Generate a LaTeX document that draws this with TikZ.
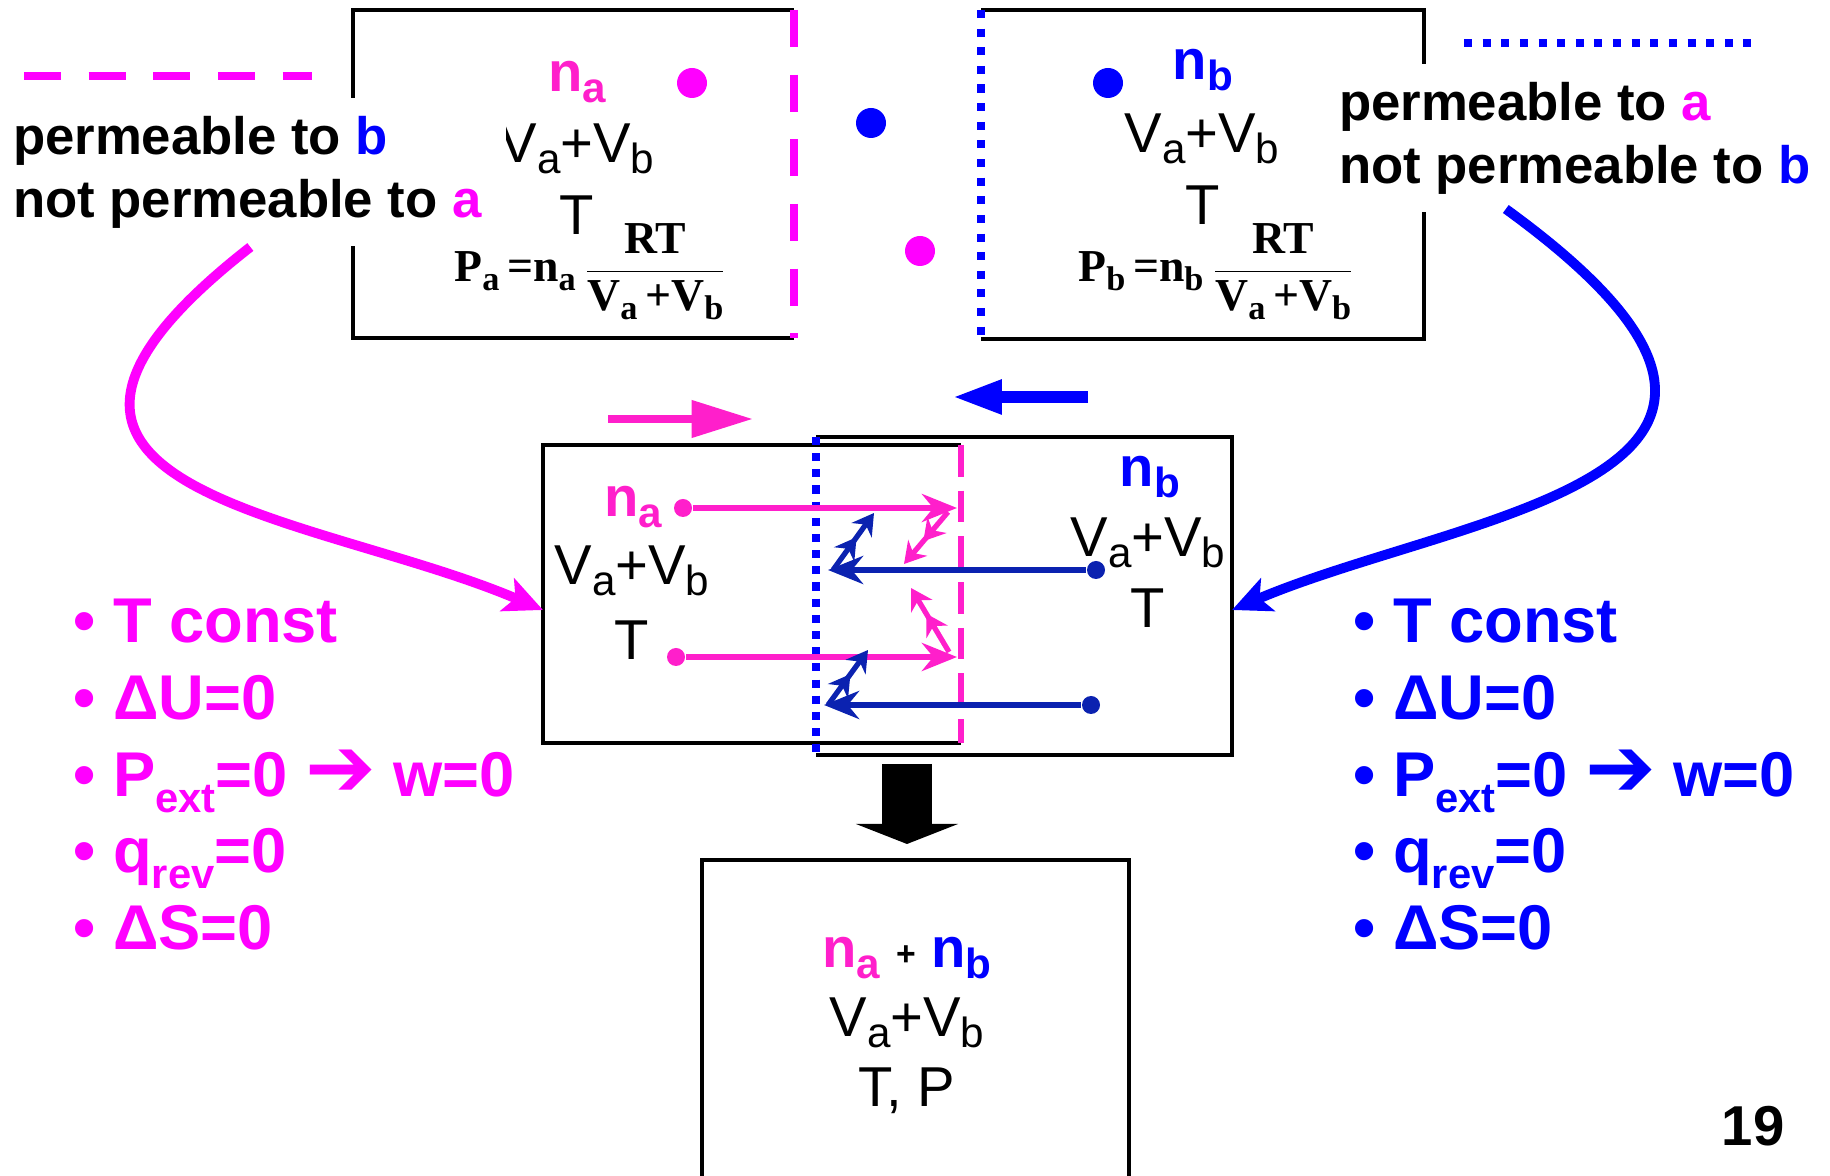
\documentclass[tikz,border=0pt]{standalone}
\usepackage{fontspec}
\setmainfont{Liberation Sans}
\newfontfamily\timesf{Liberation Serif}
\newfontfamily\symf{DejaVu Sans}
\usepackage{amsmath}
\usepackage{graphicx}
\usepackage{xcolor}
\usepackage{tikz}
\usetikzlibrary{arrows.meta,positioning,calc}

\definecolor{magA}{HTML}{FF00FF}
\definecolor{pinkA}{HTML}{FF1FCB}
\definecolor{blueB}{HTML}{0000FF}
\definecolor{navyB}{HTML}{0B22B0}

\newcommand{\dn}[1]{\raisebox{-0.18em}{\scalebox{0.75}{#1}}}
\newcommand{\dnn}[1]{\raisebox{-0.24em}{\scalebox{0.66}{#1}}}

\begin{document}
\begin{tikzpicture}[thick]
  \tikzstyle{frame} = [rectangle, inner sep=0, outer sep=0]
  \tikzstyle{wall} = [line width=1.3pt, line join=miter]
  \tikzstyle{memA} = [magA, line width=2.55pt, dash pattern=on 10.5pt off 7.9pt]
  \tikzstyle{memB} = [blueB, line width=2.3pt, dash pattern=on 2.3pt off 3pt]
  \tikzstyle{gas} = [inner sep=0, anchor=base, font=\fontsize{16}{19}\selectfont]
  \tikzstyle{lbl} = [inner sep=0, anchor=base, font=\bfseries\fontsize{16}{19}\selectfont]
  \tikzstyle{formula} = [inner sep=0, anchor=base west, font=\timesf\bfseries\fontsize{13}{15}\selectfont]
  \tikzstyle{legend} = [fill=white, align=left, anchor=north west, inner xsep=7pt, inner ysep=5pt, font=\bfseries\fontsize{15}{17.9}\selectfont]
  \tikzstyle{item} = [inner sep=0, anchor=base west, font=\bfseries\fontsize{18}{21}\selectfont]
  \tikzstyle{bigdot} = [circle, fill, inner sep=0, minimum size=0.3cm]
  \tikzstyle{smalldot} = [circle, fill, inner sep=0, minimum size=0.18cm]
  \tikzstyle{shot} = [line width=1.5pt, -{Stealth[length=10pt,width=8pt]}]
  \tikzstyle{bounce} = [line width=1.5pt, -{Stealth[length=6pt,width=7pt,sep=2.5pt]Stealth[length=6pt,width=7pt]}]
  \tikzstyle{curve} = [line width=2.8pt, -{Stealth[length=11pt,width=10pt,inset=2.5pt]}]

  \useasboundingbox (0,0) rectangle (18.3,-11.76);
  \clip (0,0) rectangle (18.3,-11.76);

  \node[frame, minimum width=4.41cm, minimum height=3.28cm] (boxA) at (5.735,-1.74) {};
  \node[frame, minimum width=4.43cm, minimum height=3.29cm] (boxB) at (12.025,-1.745) {};
  \node[frame, minimum width=4.18cm, minimum height=2.98cm] (midA) at (7.52,-5.94) {};
  \node[frame, minimum width=4.16cm, minimum height=3.18cm] (midB) at (10.24,-5.96) {};
  \node[frame, draw, line width=1.3pt, minimum width=4.27cm, minimum height=3.40cm] (final) at (9.155,-10.30) {};

  \draw[wall] (boxA.north east) -- (boxA.north west) -- (boxA.south west) -- (boxA.south east);
  \draw[wall] (boxB.north west) -- (boxB.north east) -- (boxB.south east) -- (boxB.south west);
  \draw[wall] (midA.north east) -- (midA.north west) -- (midA.south west) -- (midA.south east);
  \draw[wall] (midB.north west) -- (midB.north east) -- (midB.south east) -- (midB.south west);
  \draw[memA] (boxA.north east) -- (boxA.south east);
  \draw[memB] (boxB.north west) -- (boxB.south west);
  \draw[memB, dash pattern=on 2.3pt off 2.3pt] (midB.north west) -- (midB.south west);
  \draw[memA, pinkA, line width=1.9pt, dash pattern=on 9pt off 4pt] (midA.north east) -- (midA.south east);

  \node[lbl, pinkA] (naT) at (5.77,-0.92) {n\dn{a}};
  \node[gas] (vT) at (5.77,-1.63) {V\dn{a}+V\dn{b}};
  \node[gas] (tT) at (5.77,-2.35) {T};
  \node[formula] (lawA) at (4.53,-2.82) {P\dn{a}\,=n\dn{a}\,$\dfrac{\text{RT}}{\text{V\dn{a}\,+V\dn{b}}}$};
  \node[lbl, blueB] (nbT) at (12.03,-0.80) {n\dn{b}};
  \node[gas] (vTb) at (12.02,-1.53) {V\dn{a}+V\dn{b}};
  \node[gas] (tTb) at (12.03,-2.25) {T};
  \node[formula] (lawB) at (10.77,-2.82) {P\dn{b}\,=n\dn{b}\,$\dfrac{\text{RT}}{\text{V\dn{a}\,+V\dn{b}}}$};

  \node[bigdot, magA] (dotA) at (6.92,-0.83) {};
  \node[bigdot, blueB] (dotB) at (11.08,-0.83) {};
  \node[bigdot, blueB] (freeB) at (8.71,-1.23) {};
  \node[bigdot, magA] (freeA) at (9.20,-2.51) {};

  \node[legend] (legA) at (-0.13,-0.97) {permeable to {\color{blueB}b}\\not permeable to {\color{magA}a}};
  \node[legend] (legB) at (13.13,-0.63) {permeable to {\color{magA}a}\\not permeable to {\color{blueB}b}};
  \draw[memA] (0.24,-0.76) -- (3.12,-0.76);
  \draw[memB] (14.64,-0.43) -- (17.51,-0.43);

  \draw[curve, magA] ([xshift=0.03cm]legA.south) .. controls +(-3.15,-2.46) and +(-2.30,0.98) .. ([yshift=-0.16cm]midA.west);
  \draw[curve, blueB] ([xshift=-0.69cm,yshift=0.04cm]legB.south) .. controls +(3.72,-2.70) and +(2.30,0.98) .. ([yshift=-0.14cm]midB.east);

  \coordinate (pushA0) at (6.08,-4.19);
  \coordinate (pushA1) at (7.53,-4.19);
  \coordinate (pushB0) at (10.88,-3.97);
  \coordinate (pushB1) at (9.52,-3.97);
  \draw[pinkA, line width=2.3pt, -{Triangle[length=17.5pt,width=10.2pt]}] (pushA0) -- (pushA1);
  \draw[blueB, line width=3.4pt, -{Triangle[length=14.2pt,width=9pt]}] (pushB0) -- (pushB1);

  \node[lbl, pinkA] (naM) at (6.33,-5.17) {n\dn{a}};
  \node[gas] (vMa) at (6.32,-5.85) {V\dn{a}+V\dn{b}};
  \node[gas] (tMa) at (6.32,-6.60) {T};
  \node[lbl, blueB] (nbM) at (11.50,-4.87) {n\dn{b}};
  \node[gas] (vMb) at (11.48,-5.57) {V\dn{a}+V\dn{b}};
  \node[gas] (tMb) at (11.48,-6.28) {T};

  \node[smalldot, pinkA] (molA1) at (6.83,-5.08) {};
  \node[smalldot, pinkA] (molA2) at (6.76,-6.57) {};
  \node[smalldot, navyB] (molB1) at (10.96,-5.70) {};
  \node[smalldot, navyB] (molB2) at (10.91,-7.05) {};
  \coordinate (hitA1) at (9.57,-5.08);
  \coordinate (hitA2) at (9.57,-6.57);
  \coordinate (hitB1) at (8.28,-5.70);
  \coordinate (hitB2) at (8.24,-7.05);
  \coordinate (backA1) at (9.04,-5.64);
  \coordinate (backA2) at (9.11,-5.88);
  \coordinate (backB1) at (8.74,-5.13);
  \coordinate (backB2) at (8.68,-6.50);

  \draw[shot, pinkA] (molA1) -- (hitA1);
  \draw[shot, pinkA] (molA2) -- (hitA2);
  \draw[shot, navyB] (molB1) -- (hitB1);
  \draw[shot, navyB] (molB2) -- (hitB2);
  \draw[bounce, pinkA] ([xshift=-0.09cm,yshift=-0.04cm]hitA1) -- (backA1);
  \draw[bounce, pinkA] ([xshift=-0.08cm,yshift=0.05cm]hitA2) -- (backA2);
  \draw[bounce, navyB] ([xshift=0.05cm]hitB1) -- (backB1);
  \draw[bounce, navyB] ([xshift=0.04cm]hitB2) -- (backB2);

  \draw[line width=14.5pt, -{Triangle[length=5.7pt,width=28.9pt]}] ($(final.north)+(-0.085,0.96)$) -- ($(final.north)+(-0.085,0.16)$);

  \node[lbl] (mixN) at (9.07,-9.68) {{\color{pinkA}n\dn{a}} \raisebox{0.05em}{\scalebox{0.6}{+}} {\color{blueB}n\dn{b}}};
  \node[gas] (mixV) at (9.07,-10.37) {V\dn{a}+V\dn{b}};
  \node[gas] (mixT) at (9.07,-11.07) {T, P};

  \node[item, magA] (itA1) at (0.72,-6.43) {• T const};
  \node[item, magA] (itA2) at (0.72,-7.20) {• ΔU=0};
  \node[item, magA] (itA3) at (0.72,-7.97) {• P\dnn{ext}=0 {\symf\fontsize{24}{21}\selectfont ➔} w=0};
  \node[item, magA] (itA4) at (0.72,-8.73) {• q\dnn{rev}=0};
  \node[item, magA] (itA5) at (0.72,-9.50) {• ΔS=0};
  \node[item, blueB] (itB1) at (13.52,-6.43) {• T const};
  \node[item, blueB] (itB2) at (13.52,-7.20) {• ΔU=0};
  \node[item, blueB] (itB3) at (13.52,-7.97) {• P\dnn{ext}=0 {\symf\fontsize{24}{21}\selectfont ➔} w=0};
  \node[item, blueB] (itB4) at (13.52,-8.73) {• q\dnn{rev}=0};
  \node[item, blueB] (itB5) at (13.52,-9.50) {• ΔS=0};

  \node[lbl] (page) at (17.53,-11.45) {19};
\end{tikzpicture}
\end{document}
